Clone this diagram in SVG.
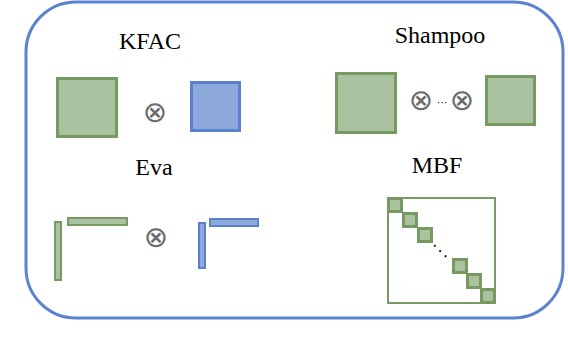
<svg xmlns="http://www.w3.org/2000/svg" width="568" height="350" viewBox="0 0 568 350">
<style>
.lbl{font-family:'Liberation Serif','Times New Roman',serif;font-size:24px;fill:#000;text-anchor:middle}
.g{fill:#AAC29F;stroke:#779A63;stroke-width:3}
.gt{fill:#AAC29F;stroke:#779A63;stroke-width:2}
.b{fill:#8EA9DB;stroke:#5B80CC;stroke-width:3}
.bt{fill:#8EA9DB;stroke:#5B80CC;stroke-width:2}
.op{font-family:'DejaVu Sans',sans-serif;font-size:29px;fill:#6b6b6b;text-anchor:middle}
.dots{font-family:'DejaVu Sans',sans-serif;font-size:11px;fill:#222;text-anchor:middle}
</style>
<rect id="frame" x="26" y="2" width="537" height="316" rx="50" ry="50" fill="#fff" stroke="#5B83CF" stroke-width="3"/>
<g id="kfac">
<text class="lbl" x="150" y="49">KFAC</text>
<rect class="g" x="57.5" y="78.5" width="59" height="58"/>
<text class="op" x="155" y="122">⊗</text>
<rect class="b" x="191.5" y="82.5" width="48" height="48"/>
</g>
<g id="shampoo">
<text class="lbl" x="440" y="43">Shampoo</text>
<rect class="g" x="336.5" y="73.5" width="59" height="59"/>
<text class="op" x="421" y="110">⊗</text>
<text class="dots" x="442" y="106">···</text>
<text class="op" x="462" y="110">⊗</text>
<rect class="g" x="486.5" y="76.5" width="48" height="48"/>
</g>
<g id="eva">
<text class="lbl" x="154" y="175">Eva</text>
<rect class="gt" x="55" y="222" width="6" height="58"/>
<rect class="gt" x="68" y="218" width="59" height="7"/>
<text class="op" x="156" y="247">⊗</text>
<rect class="bt" x="199" y="223" width="6" height="45"/>
<rect class="bt" x="210" y="219" width="48" height="7"/>
</g>
<g id="mbf">
<text class="lbl" x="437" y="173">MBF</text>
<rect x="388" y="198" width="107" height="105" fill="none" stroke="#779A63" stroke-width="2"/>
<rect class="g" x="388.5" y="198.5" width="13" height="13"/>
<rect class="g" x="403.5" y="213.5" width="13" height="13"/>
<rect class="g" x="418.5" y="228.5" width="13" height="13"/>
<text class="dots" x="440" y="256" style="font-size:16px;fill:#000">⋱</text>
<rect class="g" x="453.5" y="259.5" width="13" height="13"/>
<rect class="g" x="467.5" y="274.5" width="13" height="13"/>
<rect class="g" x="481.5" y="289.5" width="13" height="13"/>
</g>
<g id="connectors"></g>
</svg>
